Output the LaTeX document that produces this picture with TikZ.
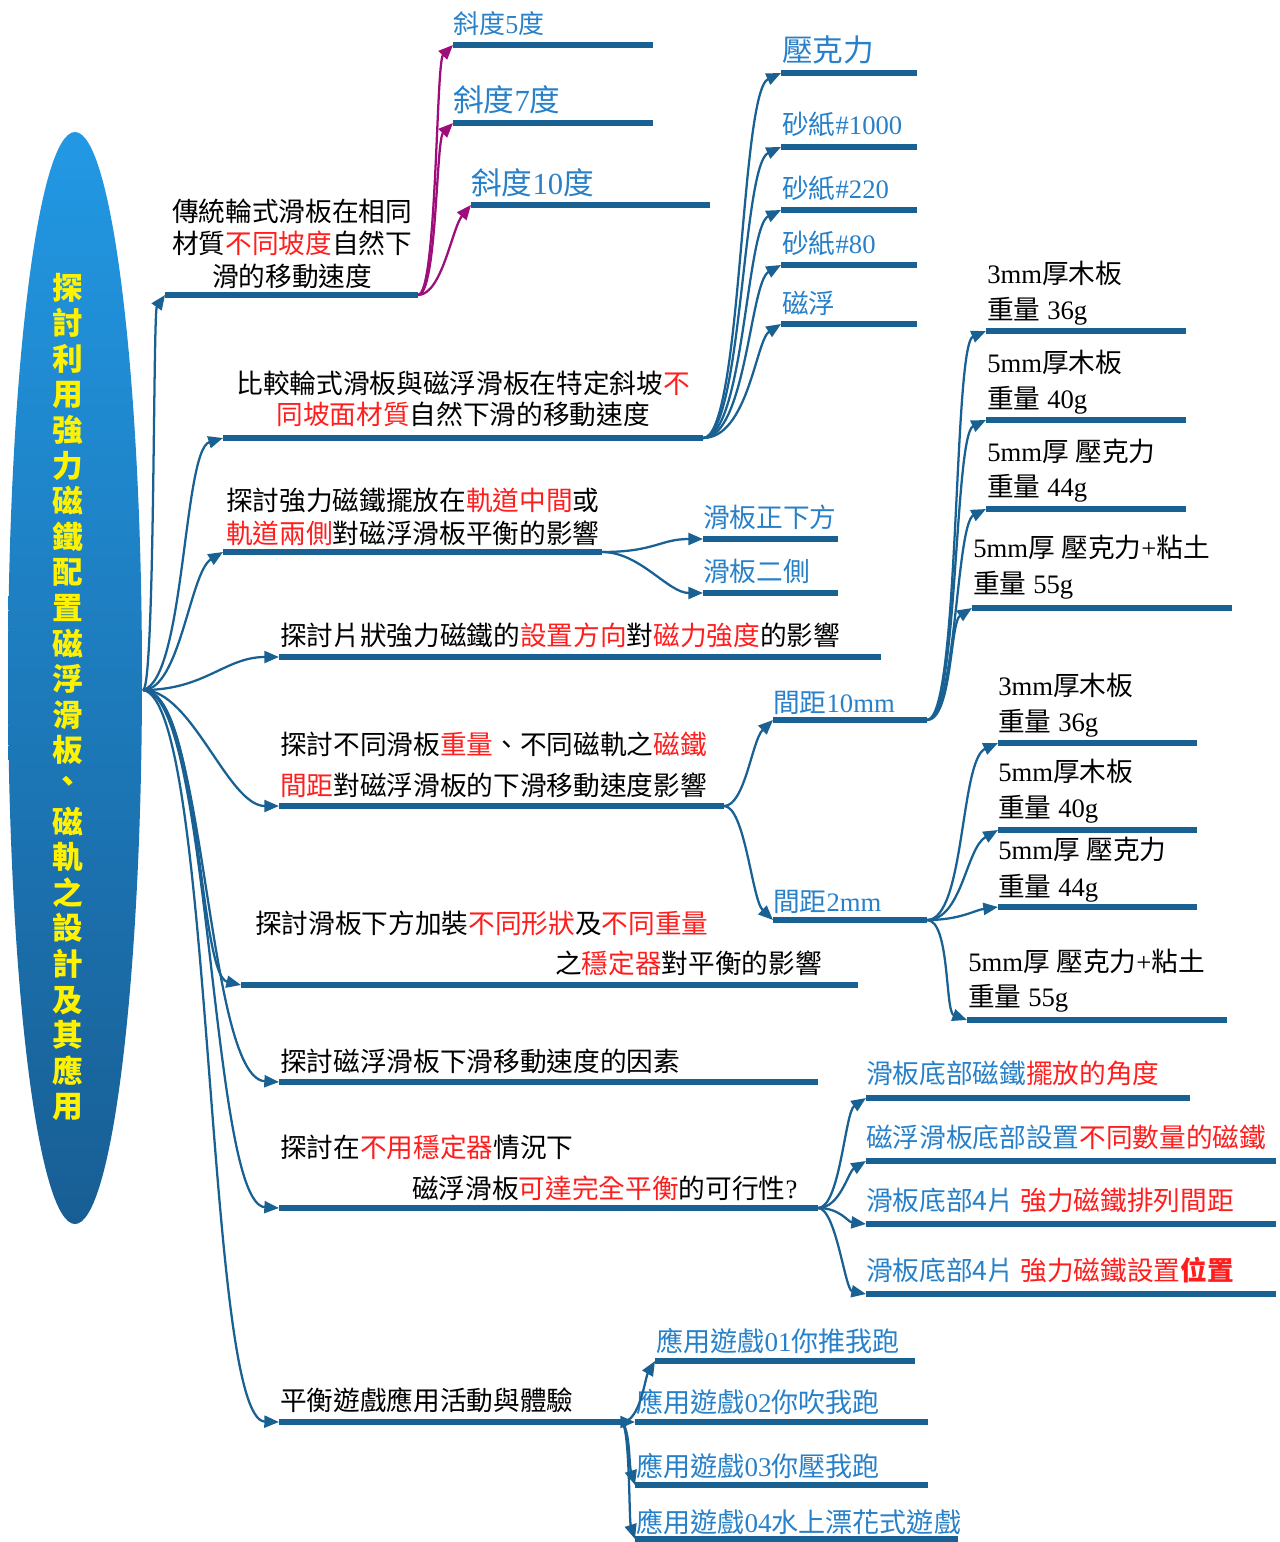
\documentclass[tikz,border=0pt]{standalone}
\usepackage{fontspec}
\setmainfont{Liberation Serif}
\newfontfamily\cjk{Noto Sans CJK TC}
\usetikzlibrary{arrows.meta,shapes.geometric}
\newcommand\latinfam{\rmfamily}
\XeTeXinterchartokenstate=1
\newXeTeXintercharclass\CJKcls
\newcount\cjkcnt
\cjkcnt="2E80 \loop\XeTeXcharclass\cjkcnt=\CJKcls\advance\cjkcnt by 1\ifnum\cjkcnt<"A000\repeat
\cjkcnt="FF00 \loop\XeTeXcharclass\cjkcnt=\CJKcls\advance\cjkcnt by 1\ifnum\cjkcnt<"FFF0\repeat
\XeTeXinterchartoks 0 \CJKcls={\cjk}
\XeTeXinterchartoks 4095 \CJKcls={\cjk}
\XeTeXinterchartoks \CJKcls 0={\latinfam}
\XeTeXinterchartoks \CJKcls 4095={\latinfam}
\definecolor{lineblue}{RGB}{24,97,146}
\definecolor{lblue}{RGB}{40,128,200}
\definecolor{mred}{RGB}{255,30,30}
\definecolor{mag}{RGB}{158,14,122}
\definecolor{ellTop}{RGB}{34,152,228}
\definecolor{ellBot}{RGB}{24,94,148}
\newcommand\rd[1]{\textcolor{mred}{#1}}
\newcommand\mkbar[4]{\coordinate (#1s) at (#2,#4); \coordinate (#1e) at (#3,#4); \draw[ul] (#1s) -- (#1e);}
\tikzset{
  ul/.style={line width=5pt, draw=lineblue},
  conn/.style={line width=1.7pt, draw=lineblue, -{Triangle[length=11pt,width=9pt]}},
  mconn/.style={line width=1.7pt, draw=mag, -{Triangle[length=11pt,width=9pt]}},
  txt/.style={inner sep=0pt, anchor=base west, font=\fontsize{20}{24}\selectfont},
  ctxt/.style={txt, anchor=base},
  blab/.style={txt, text=lblue},
  big/.style={font=\fontsize{23}{26}\selectfont},
  sanslab/.style={txt, text=lblue, font=\def\latinfam{\cjk}\fontsize{20}{24}\selectfont},
  game/.style={txt, text=lblue, font=\fontsize{20.3}{24}\selectfont},
}
\begin{document}
\begin{tikzpicture}[x=0.75pt,y=-0.75pt]
\useasboundingbox (0,0) rectangle (1279,1542);
% root ellipse
\node[ellipse, minimum width=100.5pt, minimum height=819pt, inner sep=0pt, top color=ellTop, bottom color=ellBot] (ell) at (75,678) {};
\node[text=yellow, align=center, inner sep=0pt, font=\bfseries\fontsize{23}{26.7}\selectfont] (title) at (68,697)
 {探\\討\\利\\用\\強\\力\\磁\\鐵\\配\\置\\磁\\浮\\滑\\板\\\raisebox{4pt}{、}\\磁\\軌\\之\\設\\計\\及\\其\\應\\用};
\coordinate (hub) at (143,690);
% level-1 bars
\mkbar{u1}{165}{418}{295}
\mkbar{u2}{223}{703}{438}
\mkbar{u3}{223}{602}{552}
\mkbar{u4}{279}{881}{657}
\mkbar{u5}{279}{724}{806}
\mkbar{u6}{241}{858}{985}
\mkbar{u7}{279}{818}{1082}
\mkbar{u8}{279}{818}{1208}
\mkbar{u9}{279}{628}{1422}
% level-1 texts
\node[ctxt] (n1a) at (292,221) {傳統輪式滑板在相同};
\node[ctxt] (n1b) at (292,253) {材質\rd{不同坡度}自然下};
\node[ctxt] (n1c) at (292,286) {滑的移動速度};
\node[ctxt] (n2a) at (463,393) {比較輪式滑板與磁浮滑板在特定斜坡\rd{不}};
\node[ctxt] (n2b) at (463,424) {\rd{同坡面材質}自然下滑的移動速度};
\node[txt] (n3a) at (226,510) {探討強力磁鐵擺放在\rd{軌道中間}或};
\node[txt] (n3b) at (226,543) {\rd{軌道兩側}對磁浮滑板平衡的影響};
\node[txt] (n4) at (280,645) {探討片狀強力磁鐵的\rd{設置方向}對\rd{磁力強度}的影響};
\node[txt] (n5a) at (280,754) {探討不同滑板\rd{重量}、不同磁軌之\rd{磁鐵}};
\node[txt] (n5b) at (280,795) {\rd{間距}對磁浮滑板的下滑移動速度影響};
\node[txt] (n6a) at (255,933) {探討滑板下方加裝\rd{不同形狀}及\rd{不同重量}};
\node[txt] (n6b) at (555,973) {之\rd{穩定器}對平衡的影響};
\node[txt] (n7) at (280,1071) {探討磁浮滑板下滑移動速度的因素};
\node[txt] (n8a) at (280,1157) {探討在\rd{不用穩定器}情況下};
\node[txt] (n8b) at (412,1198) {磁浮滑板\rd{可達完全平衡}的可行性?};
\node[txt] (n9) at (280,1410) {平衡遊戲應用活動與體驗};
% hub connectors
\draw[conn] (hub) .. controls (155,690) and (153,312) .. (u1s);
\draw[conn] (hub) .. controls (185,680) and (183,450) .. (u2s);
\draw[conn] (hub) .. controls (180,690) and (190,572) .. (u3s);
\draw[conn] (hub) .. controls (205,690) and (225,657) .. (u4s);
\draw[conn] (hub) .. controls (192,690) and (228,806) .. (u5s);
\draw[conn] (hub) .. controls (200,690) and (198,975) .. (u6s);
\draw[conn] (hub) .. controls (206,690) and (206,1078) .. (u7s);
\draw[conn] (hub) .. controls (211,690) and (210,1204) .. (u8s);
\draw[conn] (hub) .. controls (214,700) and (205,1420) .. (u9s);
% slopes (magenta)
\mkbar{s1}{453}{653}{45}
\mkbar{s2}{453}{653}{123}
\mkbar{s3}{471}{710}{205}
\node[blab, font=\fontsize{19.5}{23}\selectfont] (s1t) at (453,33) {斜度5度};
\node[blab, big] (s2t) at (453,111) {斜度7度};
\node[blab, big] (s3t) at (471,194) {斜度10度};
\draw[mconn] (u1e) .. controls (437,295) and (436,62) .. (s1s);
\draw[mconn] (u1e) .. controls (437,295) and (436,140) .. (s2s);
\draw[mconn] (u1e) .. controls (442,295) and (452,228) .. (s3s);
% surfaces
\mkbar{m1}{781}{917}{73}
\mkbar{m2}{781}{917}{147}
\mkbar{m3}{781}{917}{210}
\mkbar{m4}{781}{917}{265}
\mkbar{m5}{781}{917}{324}
\node[blab, big] (m1t) at (782,61) {壓克力};
\node[blab] (m2t) at (782,134) {砂紙\#1000};
\node[blab] (m3t) at (782,198) {砂紙\#220};
\node[blab] (m4t) at (782,253) {砂紙\#80};
\node[blab] (m5t) at (782,313) {磁浮};
\draw[conn] (u2e) .. controls (742,438) and (740,92) .. (m1s);
\draw[conn] (u2e) .. controls (742,438) and (742,165) .. (m2s);
\draw[conn] (u2e) .. controls (744,438) and (746,227) .. (m3s);
\draw[conn] (u2e) .. controls (746,438) and (750,282) .. (m4s);
\draw[conn] (u2e) .. controls (748,438) and (756,340) .. (m5s);
% magnet position
\mkbar{p1}{703}{838}{539}
\mkbar{p2}{703}{838}{593}
\node[blab] (p1t) at (703,527) {滑板正下方};
\node[blab] (p2t) at (703,581) {滑板二側};
\draw[conn] (u3e) .. controls (655,552) and (660,539) .. (p1s);
\draw[conn] (u3e) .. controls (640,552) and (668,593) .. (p2s);
% spacing
\mkbar{d1}{773}{927}{720}
\mkbar{d2}{773}{927}{920}
\node[blab] (d1t) at (773,712) {間距10mm};
\node[blab] (d2t) at (773,911) {間距2mm};
\draw[conn] (u5e) .. controls (745,806) and (752,740) .. (d1s);
\draw[conn] (u5e) .. controls (745,806) and (752,900) .. (d2s);
% weights for 10mm
\mkbar{a1}{986}{1186}{331}
\mkbar{a2}{986}{1186}{420}
\mkbar{a3}{986}{1186}{509}
\mkbar{a4}{972}{1232}{608}
\node[txt] (a1t) at (987,283) {3mm厚木板};
\node[txt] (a1w) at (987,319) {重量 36g};
\node[txt] (a2t) at (987,372) {5mm厚木板};
\node[txt] (a2w) at (987,408) {重量 40g};
\node[txt] (a3t) at (987,461) {5mm厚 壓克力};
\node[txt] (a3w) at (987,496) {重量 44g};
\node[txt] (a4t) at (973,557) {5mm厚 壓克力+粘土};
\node[txt] (a4w) at (973,593) {重量 55g};
\draw[conn] (d1e) .. controls (960,720) and (953,345) .. (a1s);
\draw[conn] (d1e) .. controls (958,720) and (954,435) .. (a2s);
\draw[conn] (d1e) .. controls (956,720) and (956,524) .. (a3s);
\draw[conn] (d1e) .. controls (952,720) and (950,622) .. (a4s);
% weights for 2mm
\mkbar{b1}{998}{1197}{743}
\mkbar{b2}{998}{1197}{830}
\mkbar{b3}{998}{1197}{907}
\mkbar{b4}{967}{1227}{1020}
\node[txt] (b1t) at (998,695) {3mm厚木板};
\node[txt] (b1w) at (998,731) {重量 36g};
\node[txt] (b2t) at (998,781) {5mm厚木板};
\node[txt] (b2w) at (998,817) {重量 40g};
\node[txt] (b3t) at (998,859) {5mm厚 壓克力};
\node[txt] (b3w) at (998,896) {重量 44g};
\node[txt] (b4t) at (968,971) {5mm厚 壓克力+粘土};
\node[txt] (b4w) at (968,1006) {重量 55g};
\draw[conn] (d2e) .. controls (965,920) and (960,760) .. (b1s);
\draw[conn] (d2e) .. controls (962,920) and (966,848) .. (b2s);
\draw[conn] (d2e) .. controls (960,920) and (975,910) .. (b3s);
\draw[conn] (d2e) .. controls (950,920) and (945,1012) .. (b4s);
% balance factors
\mkbar{c1}{866}{1190}{1098}
\mkbar{c2}{866}{1276}{1161}
\mkbar{c3}{866}{1276}{1224}
\mkbar{c4}{866}{1276}{1294}
\node[sanslab] (c1t) at (866,1083) {滑板底部磁鐵\rd{擺放的角度}};
\node[sanslab] (c2t) at (866,1147) {磁浮滑板底部設置\rd{不同數量的磁鐵}};
\node[sanslab] (c3t) at (866,1210) {滑板底部4片 \rd{強力磁鐵排列間距}};
\node[sanslab] (c4t) at (866,1280) {滑板底部4片 \rd{強力磁鐵設置\textbf{位置}}};
\draw[conn] (u8e) .. controls (840,1208) and (845,1112) .. (c1s);
\draw[conn] (u8e) .. controls (840,1208) and (848,1172) .. (c2s);
\draw[conn] (u8e) .. controls (840,1208) and (848,1222) .. (c3s);
\draw[conn] (u8e) .. controls (836,1208) and (845,1290) .. (c4s);
% games
\mkbar{g1}{655}{915}{1361}
\mkbar{g2}{635}{928}{1422}
\mkbar{g3}{635}{928}{1485}
\mkbar{g4}{635}{958}{1539}
\node[game] (g1t) at (656,1351) {應用遊戲01你推我跑};
\node[game] (g2t) at (636,1412) {應用遊戲02你吹我跑};
\node[game] (g3t) at (636,1476) {應用遊戲03你壓我跑};
\node[game] (g4t) at (636,1532) {應用遊戲04水上漂花式遊戲};
\coordinate (gh) at (622,1422);
\draw[conn] (gh) .. controls (640,1422) and (645,1378) .. (g1s);
\draw[conn] (gh) -- (g2s);
\draw[conn] (gh) .. controls (630,1430) and (629,1465) .. (g3s);
\draw[conn] (gh) .. controls (630,1430) and (629,1520) .. (g4s);
\end{tikzpicture}
\end{document}
